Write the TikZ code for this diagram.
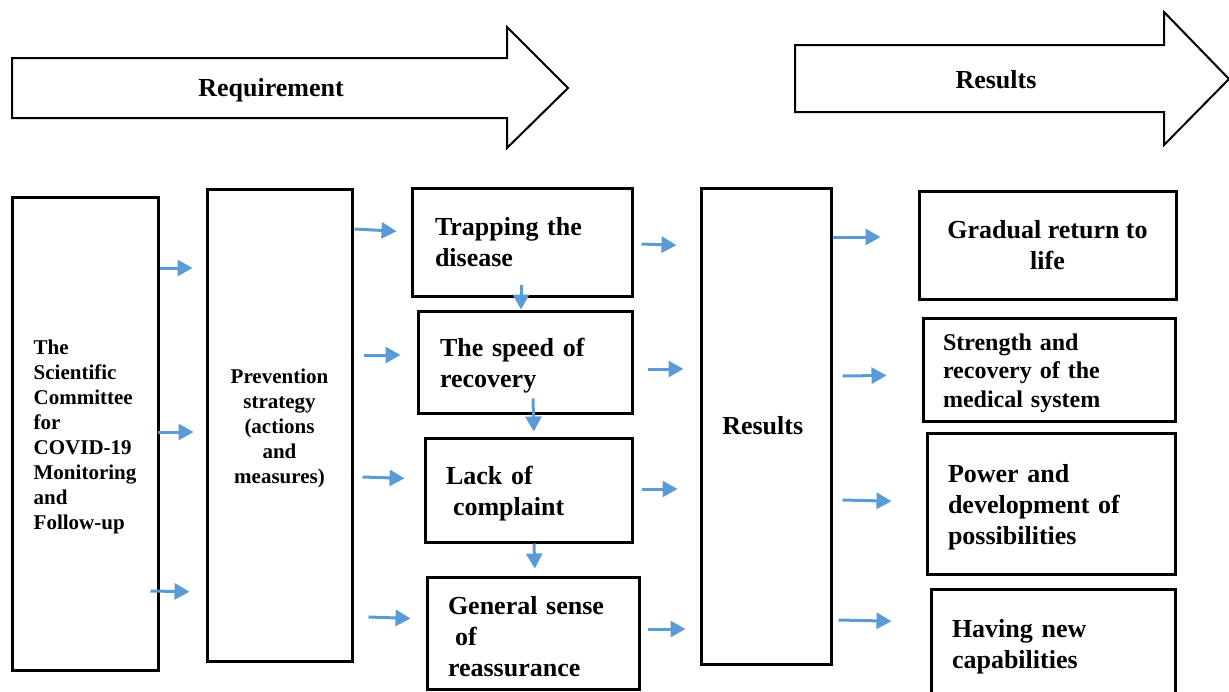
\documentclass[tikz,border=0pt]{standalone}
\definecolor{flowBlue}{RGB}{91, 155, 213}
\usepackage{fontspec}
\setmainfont{Liberation Serif}
\usepackage{tikz}
\usetikzlibrary{shapes,arrows,positioning,calc,arrows.meta}
\usepackage{xcolor}
\newcommand{\boxlead}{\rule{0pt}{0.98em}}

\begin{document}
\begin{tikzpicture}[x=1pt,y=-1pt,
                stage/.style={draw,line width=3pt,align=left,inner ysep=0pt,
                              font=\fontsize{26}{31}\selectfont\bfseries},
                small/.style={font=\fontsize{21}{25}\selectfont\bfseries},
                banner/.style={draw,line width=2pt,fill=white},
                flow/.style={draw=flowBlue,line width=3pt,-{Triangle[length=15pt,width=16pt]}}
            ]
                \clip (0,0) rectangle (1229,691);
                % top banners
                \draw[banner] (12,58) -- (507,58) -- (507,27) -- (568,88) -- (507,148) -- (507,118) -- (12,118) -- cycle;
                \node[font=\fontsize{26}{31}\selectfont\bfseries] (req) at (271,90) {Requirement};
                \draw[banner] (795,45) -- (1164,45) -- (1164,12) -- (1229,79) -- (1164,145) -- (1164,112) -- (795,112) -- cycle;
                \node[font=\fontsize{26}{31}\selectfont\bfseries] (resb) at (996,80) {Results};

                % columns
                \node[stage,small,minimum width=146pt,minimum height=473pt] (comm) at (85,433.5) {
                    \boxlead The\\Scientific\\Committee\\for\\COVID-19\\Monitoring\\and\\Follow-up
                };
                \node[stage,small,align=center,minimum width=145pt,minimum height=472pt] (prev) at (279.5,425) {
                    \boxlead Prevention\\strategy\\(actions\\and\\measures)
                };
                \node[stage,text width=174pt,inner xsep=23pt,minimum height=108pt] (trap) at (522,242) {
                    Trapping the\\disease
                };
                \node[stage,text width=170pt,inner xsep=22pt,minimum height=102pt] (speed) at (525,362) {
                    \boxlead The speed of\\recovery
                };
                \node[stage,text width=165pt,inner xsep=21pt,minimum height=104pt] (lack) at (528.5,490) {
                    \boxlead Lack of\\\hspace*{7pt}complaint
                };
                \node[stage,text width=170pt,inner xsep=21pt,minimum height=112pt] (sense) at (533,633) {
                    \boxlead General sense\\\hspace*{7pt}of\\reassurance
                };
                \node[stage,align=center,minimum width=130pt,minimum height=476pt] (res) at (766,426) {
                    Results
                };
                \node[stage,align=center,minimum width=257pt,minimum height=108pt] (ret) at (1047.5,245) {
                    Gradual return to\\life
                };
                \node[stage,font=\fontsize{24}{28.5}\selectfont\bfseries,text width=212pt,inner xsep=20pt,
                      minimum height=103pt] (health) at (1049,369.5) {
                    \boxlead Strength and\\recovery of the\\medical system
                };
                \node[stage,text width=206pt,inner xsep=21pt,minimum height=141pt] (power) at (1051,503.5) {
                    \boxlead Power and\\development of\\possibilities
                };
                \node[stage,text width=202pt,inner xsep=21pt,minimum height=116pt] (capab) at (1053,647) {
                    Having new\\capabilities
                };

                % committee -> strategy
                \draw[flow,shorten >=13pt] ([yshift=165.5pt]comm.east) -- ([yshift=157pt]prev.west);
                \draw[flow,shorten >=12pt] ([xshift=-2pt,yshift=1.5pt]comm.east) -- ([yshift=-7pt]prev.west);
                \draw[flow,shorten >=16pt] ([xshift=-9pt,yshift=-157.5pt]comm.east) -- ([yshift=-167pt]prev.west);

                % strategy -> measures
                \draw[flow,shorten >=14pt] ([xshift=1pt,yshift=196pt]prev.east) -- ([yshift=10pt]trap.west);
                \draw[flow,shorten >=16pt] ([xshift=10pt,yshift=70pt]prev.east) -- ([yshift=7pt]speed.west);
                \draw[flow,shorten >=19pt] ([xshift=9pt,yshift=-52pt]prev.east) -- ([yshift=11pt]lack.west);
                \draw[flow,shorten >=15pt] ([xshift=15pt,yshift=-192pt]prev.east) -- ([yshift=14pt]sense.west);

                % down the chain
                \draw[flow] ([xshift=-1pt,yshift=13pt]trap.south) -- ([xshift=-4pt]speed.north);
                \draw[flow,shorten >=5pt] ([xshift=8pt,yshift=16pt]speed.south) -- ([xshift=5.5pt]lack.north);
                \draw[flow,shorten >=7pt] ([xshift=5.5pt]lack.south) -- ([xshift=2pt]sense.north);

                % measures -> results
                \draw[flow,shorten >=23pt] ([xshift=8pt,yshift=-2pt]trap.east) -- ([yshift=180pt]res.west);
                \draw[flow,shorten >=16pt] ([xshift=14pt,yshift=-7pt]speed.east) -- ([yshift=57pt]res.west);
                \draw[flow,shorten >=22pt] ([xshift=8pt,yshift=1pt]lack.east) -- ([yshift=-63pt]res.west);
                \draw[flow,shorten >=14pt] ([xshift=7pt,yshift=4pt]sense.east) -- ([yshift=-203pt]res.west);

                % results -> outcomes
                \draw[flow,shorten >=37pt] ([yshift=189pt]res.east) -- ([yshift=8pt]ret.west);
                \draw[flow,shorten >=35pt] ([xshift=10pt,yshift=50pt]res.east) -- ([yshift=-5.5pt]health.west);
                \draw[flow,shorten >=34pt] ([xshift=10pt,yshift=-74pt]res.east) -- ([yshift=1.5pt]power.west);
                \draw[flow,shorten >=38pt] ([xshift=6pt,yshift=-194pt]res.east) -- ([yshift=25pt]capab.west);
            \end{tikzpicture}
\end{document}
